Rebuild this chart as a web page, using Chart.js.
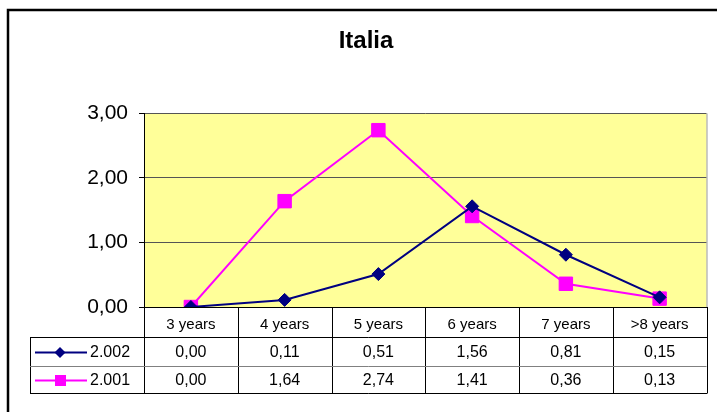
<!DOCTYPE html>
<html>
<head>
<meta charset="utf-8">
<script src="https://cdn.jsdelivr.net/npm/chart.js@4/dist/chart.umd.min.js"></script>
<style>
  html, body { margin: 0; padding: 0; background: #fff; }
  #wrap { width: 717px; height: 412px; position: relative; }
</style>
</head>
<body>
<div id="wrap"><canvas id="chart"></canvas></div>
<script>
const categories = ['3 years', '4 years', '5 years', '6 years', '7 years', '>8 years'];
const series2002 = [0.00, 0.11, 0.51, 1.56, 0.81, 0.15];
const series2001 = [0.00, 1.64, 2.74, 1.41, 0.36, 0.13];
const seriesNames = ['2.002', '2.001'];
const chartTitle = 'Italia';

const FONT = '"Liberation Sans", Arial, sans-serif';
const fmt = v => v.toFixed(2).replace('.', ',');

// fondo, marco y tabla de datos
const tablePlugin = {
    id: 'tablePlugin',
    beforeDraw(chart) {
        const { ctx, chartArea: a } = chart;
        ctx.save();
        ctx.fillStyle = '#ffff99';
        ctx.fillRect(a.left, a.top, a.right - a.left, a.bottom - a.top);
        // marco exterior
        ctx.strokeStyle = '#000';
        ctx.lineWidth = 2.5;
        ctx.beginPath();
        ctx.moveTo(8, 420);
        ctx.lineTo(8, 10);
        ctx.lineTo(720, 10);
        ctx.stroke();
        ctx.restore();
    },
    afterDraw(chart) {
        const { ctx, chartArea: a } = chart;
        const x = chart.scales.x;
        const step = (a.right - a.left) / categories.length;
        const rowTop = a.bottom + 30;
        const rowH = [29, 27];
        const tableLeft = 30;
        const tableBottom = rowTop + rowH[0] + rowH[1];
        ctx.save();
        // borde derecho gris del area
        ctx.strokeStyle = '#999';
        ctx.lineWidth = 1;
        ctx.beginPath();
        ctx.moveTo(a.right + 0.5, a.top);
        ctx.lineTo(a.right + 0.5, a.bottom);
        ctx.stroke();

        ctx.strokeStyle = '#000';
        ctx.beginPath();
        for (let i = 0; i <= categories.length; i++) {
            const px = Math.round(a.left + i * step) + 0.5;
            ctx.moveTo(px, a.bottom);
            ctx.lineTo(px, tableBottom);
        }
        ctx.moveTo(tableLeft + 0.5, rowTop);
        ctx.lineTo(tableLeft + 0.5, tableBottom);
        ctx.moveTo(tableLeft, rowTop + 0.5);
        ctx.lineTo(a.right + 1, rowTop + 0.5);
        ctx.moveTo(tableLeft, tableBottom + 0.5);
        ctx.lineTo(a.right + 1, tableBottom + 0.5);
        ctx.stroke();
        ctx.strokeStyle = '#808080';
        ctx.beginPath();
        ctx.moveTo(tableLeft, rowTop + rowH[0] + 0.5);
        ctx.lineTo(a.right, rowTop + rowH[0] + 0.5);
        ctx.stroke();

        ctx.font = '16px ' + FONT;
        ctx.fillStyle = '#000';
        ctx.textAlign = 'center';
        ctx.textBaseline = 'middle';
        chart.data.datasets.forEach((ds, r) => {
            const cy = rowTop + (r === 0 ? rowH[0] / 2 : rowH[0] + rowH[1] / 2) + 1;
            ds.data.forEach((v, i) => {
                ctx.fillText(fmt(v), x.getPixelForValue(i), cy);
            });
            // clave de leyenda
            ctx.strokeStyle = ds.borderColor;
            ctx.lineWidth = 2;
            ctx.beginPath();
            ctx.moveTo(35, cy);
            ctx.lineTo(87, cy);
            ctx.stroke();
            ctx.fillStyle = ds.borderColor;
            ctx.beginPath();
            if (ds.pointStyle === 'rect') {
                ctx.rect(55, cy - 5.5, 11, 11);
            } else {
                ctx.moveTo(60, cy - 5.5);
                ctx.lineTo(65.5, cy);
                ctx.lineTo(60, cy + 5.5);
                ctx.lineTo(54.5, cy);
                ctx.closePath();
            }
            ctx.fill();
            ctx.fillStyle = '#000';
            ctx.textAlign = 'left';
            ctx.fillText(ds.label, 90, cy);
            ctx.textAlign = 'center';
        });
        ctx.restore();
    }
};

new Chart(document.getElementById('chart'), {
    type: 'line',
    data: {
        labels: categories,
        datasets: [
            {
                label: seriesNames[0],
                data: series2002,
                borderColor: '#000080',
                backgroundColor: '#000080',
                borderWidth: 2,
                pointStyle: 'rectRot',
                pointRadius: 6.5,
                pointBorderWidth: 1,
                tension: 0
            },
            {
                label: seriesNames[1],
                data: series2001,
                borderColor: '#ff00ff',
                backgroundColor: '#ff00ff',
                borderWidth: 2,
                pointStyle: 'rect',
                pointRadius: 9.5,
                pointBorderWidth: 1,
                tension: 0
            }
        ]
    },
    options: {
        responsive: true,
        maintainAspectRatio: false,
        animation: false,
        layout: { padding: { left: 24, right: 9, top: 0, bottom: 0 } },
        plugins: {
            legend: { display: false },
            tooltip: { enabled: false },
            title: {
                display: true,
                text: chartTitle,
                color: '#000',
                font: { family: FONT, size: 24, weight: 'bold', lineHeight: 1.2 },
                padding: { top: 27, bottom: 57.6 }
            }
        },
        scales: {
            x: {
                offset: true,
                grid: { display: false },
                border: { display: true, color: '#000', width: 1 },
                ticks: { color: '#000', font: { family: FONT, size: 15 }, padding: 1, maxRotation: 0, autoSkip: false },
                afterFit: s => { s.height = 105; }
            },
            y: {
                min: 0,
                max: 3,
                ticks: { stepSize: 1, color: '#000', font: { family: FONT, size: 21 }, padding: 11, callback: v => fmt(v) },
                grid: { color: '#555', tickColor: '#000', tickLength: 5, lineWidth: 1 },
                border: { color: '#000', width: 1 },
                afterFit: s => { s.width = 120; }
            }
        }
    },
    plugins: [tablePlugin]
});
</script>
</body>
</html>
